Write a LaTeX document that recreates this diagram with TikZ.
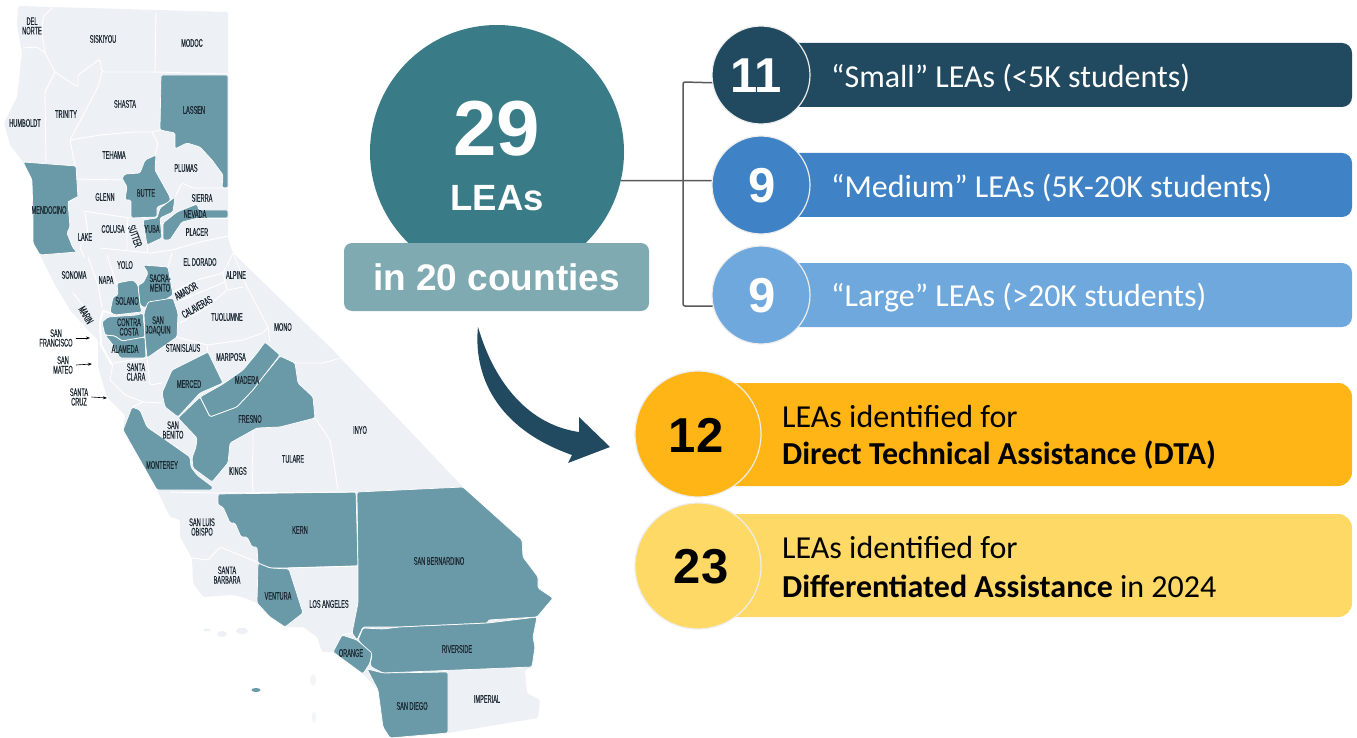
\documentclass[tikz,border=0pt]{standalone}
\usepackage{fontspec}
\setmainfont{Liberation Sans}
\newfontfamily\cali{Carlito}
\newfontfamily\mapfont[FakeStretch=0.51,FakeBold=0.25]{Liberation Sans}
\definecolor{base}{HTML}{EDF0F5}
\definecolor{teal1}{HTML}{6A9AA8}
\definecolor{mainc}{HTML}{397C88}
\definecolor{boxc}{HTML}{80AAB2}
\definecolor{navy}{HTML}{214A60}
\definecolor{midb}{HTML}{3F83C6}
\definecolor{lightb}{HTML}{6FA8DC}
\definecolor{amber}{HTML}{FFB515}
\definecolor{butter}{HTML}{FFD966}
\definecolor{labelc}{HTML}{1B2730}
\definecolor{ringc}{HTML}{EDEDED}
\tikzset{
 county/.style={fill=teal1,draw=white,line width=0.7pt,line join=round,rounded corners=1.5pt},
 cline/.style={draw=white,line width=0.9pt,line join=round,rounded corners=1.5pt},
 lbl/.style={font=\mapfont\fontsize{11}{9.5}\selectfont,align=center,inner sep=0pt,text=labelc},
 pin/.style={-{Stealth[length=4pt,width=3pt]},line width=0.6pt,black},
 numcirc/.style={circle,draw=ringc,line width=1.2pt,inner sep=0pt,minimum size=98pt},
 bigcirc/.style={circle,draw=ringc,line width=1.2pt,inner sep=0pt,minimum size=126pt},
 bartext/.style={anchor=west,inner sep=0pt,text=white,font=\cali\fontsize{32}{34}\selectfont},
 assist/.style={anchor=west,inner sep=0pt,text=black,font=\cali\fontsize{32}{34}\selectfont},
 numw/.style={inner sep=0pt,text=white,font=\bfseries\fontsize{49}{49}\selectfont},
 numb/.style={inner sep=0pt,text=black,font=\bfseries\fontsize{49}{49}\selectfont},
 bracket/.style={draw=black!65,line width=1.5pt,rounded corners=2pt},
}
\usetikzlibrary{arrows.meta}
\begin{document}
\begin{tikzpicture}[x=1pt,y=-1pt]
\useasboundingbox (0,0) rectangle (1357,738);
% state outline
\fill[base,line join=round,rounded corners=1.5pt] (18,6) -- (228,12) -- (228,238) -- (233,253) -- (330,347) -- (463,487) -- (522,540) -- (523,557) -- (538,577) -- (538,588) -- (553,598) -- (537,617) -- (533,637) -- (535,647) -- (532,667) -- (525,670) -- (527,693) -- (540,700) -- (538,718) -- (448,733) -- (390,738) -- (383,727) -- (378,690) -- (363,674) -- (333,652) -- (322,652) -- (317,637) -- (303,627) -- (287,627) -- (270,617) -- (257,603) -- (245,598) -- (233,595) -- (203,597) -- (193,583) -- (192,558) -- (180,537) -- (180,520) -- (170,517) -- (157,490) -- (140,460) -- (123,430) -- (125,415) -- (107,397) -- (98,367) -- (98,340) -- (88,330) -- (70,310) -- (55,285) -- (40,255) -- (33,243) -- (33,217) -- (32,180) -- (23,162) -- (10,145) -- (4,123) -- (17,97) -- (22,53) -- (17,25) -- cycle;
% bay
\draw[white,line width=2pt,line join=round] (113,314) -- (103,311) -- (100,322) -- (101,345) -- (112,365);
% islands
\fill[base] (222,634) ellipse (5 and 3) (242,631) ellipse (6 and 3) (207,630) ellipse (4 and 1.5);
\fill[base!70!white] (313,680) ellipse (3 and 6) (314,717) ellipse (2 and 6);
\fill[teal1] (256,690) ellipse (4.5 and 2);
% teal counties
\path[county] (161,75) -- (228,75) -- (228,188) -- (222,188) -- (223,175) -- (212,160) -- (200,147) -- (187,143) -- (175,149) -- (175,133) -- (160,130) -- cycle;
\path[county] (23,162) -- (76,166) -- (78,198) -- (68,202) -- (70,227) -- (67,233) -- (73,248) -- (77,252) -- (40,255) -- (33,243) -- (33,217) -- (32,180) -- cycle;
\path[county] (156,155) -- (155,170) -- (170,197) -- (170,202) -- (157,207) -- (157,217) -- (131,218) -- (131,200) -- (125,200) -- (127,187) -- (122,178) -- (125,174) -- (140,173) -- (145,160) -- cycle;
\path[county] (175,197) -- (173,212) -- (160,218) -- (162,238) -- (147,245) -- (143,220) -- (157,218) -- (160,208) -- cycle;
\path[county] (228,210) -- (228,218) -- (198,218) -- (182,222) -- (170,240) -- (163,240) -- (163,223) -- (177,212) -- (197,204) -- (199,210) -- cycle;
\path[county] (143,265) -- (168,267) -- (173,295) -- (165,300) -- (150,302) -- (145,308) -- (140,305) -- (138,285) -- (143,283) -- (148,273) -- cycle;
\path[county] (117,283) -- (133,280) -- (138,285) -- (140,305) -- (142,312) -- (132,313) -- (115,315) -- (110,312) -- (113,297) -- (118,295) -- cycle;
\path[county] (102,322) -- (108,317) -- (137,315) -- (143,313) -- (145,337) -- (122,341) -- (115,336) -- (105,335) -- cycle;
\path[county] (105,335) -- (115,336) -- (122,341) -- (145,337) -- (146,358) -- (120,358) -- (113,345) -- cycle;
\path[county] (148,302) -- (173,298) -- (178,313) -- (177,337) -- (147,358) -- (145,337) -- (144,313) -- cycle;
\path[county] (208,352) -- (223,383) -- (200,393) -- (178,417) -- (165,407) -- (162,393) -- (172,370) -- cycle;
\path[county] (265,342) -- (280,355) -- (263,377) -- (253,390) -- (237,407) -- (210,417) -- (200,397) -- (223,384) -- (243,370) -- (257,353) -- cycle;
\path[county] (280,356) -- (295,363) -- (298,383) -- (313,397) -- (315,418) -- (280,427) -- (257,428) -- (230,443) -- (228,463) -- (212,482) -- (193,468) -- (192,458) -- (196,447) -- (197,438) -- (178,418) -- (200,397) -- (210,417) -- (237,407) -- (253,390) -- (263,377) -- cycle;
\path[county] (132,407) -- (140,410) -- (147,427) -- (163,438) -- (190,457) -- (191,467) -- (197,475) -- (213,487) -- (212,490) -- (157,490) -- (140,460) -- (123,430) -- cycle;
\path[county] (218,494) -- (356,492) -- (358,566) -- (288,568) -- (270,568) -- (258,563) -- (257,547) -- (252,547) -- (247,537) -- (241,537) -- (235,523) -- (230,523) -- (223,507) -- (218,505) -- cycle;
\path[county] (357,492) -- (463,487) -- (522,540) -- (523,557) -- (538,577) -- (538,588) -- (553,598) -- (537,617) -- (488,620) -- (488,623) -- (400,627) -- (363,627) -- (357,640) -- (352,633) -- (358,603) -- (358,566) -- cycle;
\path[county] (363,628) -- (383,629) -- (400,627) -- (488,623) -- (537,617) -- (533,637) -- (535,647) -- (532,667) -- (383,673) -- (373,668) -- (370,665) -- (372,655) -- (358,640) -- cycle;
\path[county] (342,635) -- (357,640) -- (372,653) -- (370,663) -- (363,674) -- (333,652) -- cycle;
\path[county] (367,669) -- (383,673) -- (448,672) -- (448,733) -- (390,738) -- (383,727) -- (378,690) -- cycle;
\path[county] (258,563) -- (270,568) -- (289,569) -- (303,613) -- (285,627) -- (270,617) -- (257,603) -- cycle;
% county lines in pale counties
\draw[cline] (52,8) -- (43,17) -- (42,33) -- (45,53) -- (55,72) -- (45,92) -- (46,163);
\draw[cline] (23,48) -- (37,47) -- (45,53);
\draw[cline] (55,72) -- (67,80) -- (78,87) -- (78,75) -- (100,59) -- (102,72) -- (155,72) -- (227,74);
\draw[cline] (156,12) -- (155,72);
\draw[cline] (102,72) -- (98,87) -- (70,140) -- (75,165);
\draw[cline] (70,140) -- (100,135) -- (133,132) -- (152,132) -- (160,130);
\draw[cline] (152,132) -- (158,143) -- (155,155);
\draw[cline] (175,197) -- (182,183) -- (193,188) -- (228,188);
\draw[cline] (76,179) -- (122,180);
\draw[cline] (83,211) -- (130,218);
\draw[cline] (77,197) -- (68,202);
\draw[cline] (85,213) -- (88,233) -- (80,248) -- (85,258);
\draw[cline] (100,248) -- (150,253) -- (172,250) -- (200,242) -- (233,235);
\draw[cline] (128,218) -- (127,233) -- (127,250);
\draw[cline] (147,245) -- (147,252);
\draw[cline] (168,267) -- (172,253);
\draw[cline] (198,218) -- (228,218);
\draw[cline] (173,292) -- (197,280) -- (223,273) -- (233,253);
\draw[cline] (223,273) -- (227,290) -- (243,287);
\draw[cline] (233,253) -- (247,287) -- (268,327) -- (270,342);
\draw[cline] (177,302) -- (225,282);
\draw[cline] (180,323) -- (207,307) -- (227,290);
\draw[cline] (177,337) -- (207,345) -- (243,340) -- (263,333) -- (268,327);
\draw[cline] (207,345) -- (208,352);
\draw[cline] (147,358) -- (150,385) -- (162,383);
\draw[cline] (147,358) -- (113,363) -- (110,380);
\draw[cline] (110,380) -- (125,395) -- (143,402) -- (162,403);
\draw[cline] (143,402) -- (132,407);
\draw[cline] (295,363) -- (323,363) -- (341,358);
\draw[cline] (315,418) -- (330,440) -- (335,470) -- (338,490);
\draw[cline] (253,430) -- (253,450) -- (252,470) -- (253,493);
\draw[cline] (213,493) -- (356,492);
\draw[cline] (170,492) -- (213,493);
\draw[cline] (192,558) -- (208,560) -- (220,547) -- (257,562);
\draw[cline] (88,257) -- (98,285) -- (102,308);
\draw[cline] (107,255) -- (117,285);
\draw[cline] (73,293) -- (93,318);
\draw[cline] (288,568) -- (358,566);
\draw[cline] (352,633) -- (342,635);
% map labels
\node[lbl] (lDelNorte) at (32,26) {DEL\\NORTE};
\node[lbl] (lSiskiyou) at (103,39) {SISKIYOU};
\node[lbl] (lModoc) at (192,43) {MODOC};
\node[lbl] (lShasta) at (125,104) {SHASTA};
\node[lbl] (lLassen) at (194,110) {LASSEN};
\node[lbl] (lTrinity) at (66,114) {TRINITY};
\node[lbl] (lHumboldt) at (25,123) {HUMBOLDT};
\node[lbl] (lTehama) at (114,155) {TEHAMA};
\node[lbl] (lPlumas) at (186,168) {PLUMAS};
\node[lbl] (lGlenn) at (105,197) {GLENN};
\node[lbl] (lButte) at (146,193) {BUTTE};
\node[lbl] (lSierra) at (202,198) {SIERRA};
\node[lbl] (lMendocino) at (49,210) {MENDOCINO};
\node[lbl] (lNevada) at (195,214) {NEVADA};
\node[lbl] (lColusa) at (113,229) {COLUSA};
\node[lbl] (lYuba) at (152,229) {YUBA};
\node[lbl] (lPlacer) at (197,232) {PLACER};
\node[lbl] (lLake) at (85,237) {LAKE};
\node[lbl,rotate=-70] (lSutter) at (135,236) {SUTTER};
\node[lbl] (lYolo) at (125,265) {YOLO};
\node[lbl] (lEldorado) at (200,262) {EL DORADO};
\node[lbl] (lSonoma) at (74,275) {SONOMA};
\node[lbl] (lNapa) at (106,280) {NAPA};
\node[lbl] (lAlpine) at (236,275) {ALPINE};
\node[lbl] (lSacra) at (160,283) {SACRA-\\MENTO};
\node[lbl,rotate=30] (lAmador) at (186,291) {AMADOR};
\node[lbl] (lSolano) at (127,301) {SOLANO};
\node[lbl,rotate=30] (lCalaveras) at (197,307) {CALAVERAS};
\node[lbl,rotate=-60] (lMarin) at (86,315) {MARIN};
\node[lbl] (lTuolumne) at (227,317) {TUOLUMNE};
\node[lbl] (lContra) at (129,327) {CONTRA\\COSTA};
\node[lbl] (lJoaquin) at (158,326) {SAN\\JOAQUIN};
\node[lbl] (lMono) at (283,327) {MONO};
\node[lbl] (lAlameda) at (125,349) {ALAMEDA};
\node[lbl] (lStanislaus) at (183,348) {STANISLAUS};
\node[lbl] (lMariposa) at (231,357) {MARIPOSA};
\node[lbl] (lFrancisco) at (56,338) {SAN\\FRANCISCO};
\node[lbl] (lMateo) at (63,365) {SAN\\MATEO};
\node[lbl] (lClara) at (136,372) {SANTA\\CLARA};
\node[lbl] (lMerced) at (189,384) {MERCED};
\node[lbl] (lMadera) at (247,380) {MADERA};
\node[lbl] (lCruz) at (79,397) {SANTA\\CRUZ};
\node[lbl] (lFresno) at (250,419) {FRESNO};
\node[lbl] (lBenito) at (173,430) {SAN\\BENITO};
\node[lbl] (lInyo) at (360,430) {INYO};
\node[lbl] (lTulare) at (293,459) {TULARE};
\node[lbl] (lKings) at (238,471) {KINGS};
\node[lbl] (lMonterey) at (162,465) {MONTEREY};
\node[lbl] (lObispo) at (202,527) {SAN LUIS\\OBISPO};
\node[lbl] (lKern) at (300,530) {KERN};
\node[lbl] (lBernardino) at (439,561) {SAN BERNARDINO};
\node[lbl] (lBarbara) at (227,575) {SANTA\\BARBARA};
\node[lbl] (lVentura) at (278,596) {VENTURA};
\node[lbl] (lAngeles) at (329,604) {LOS ANGELES};
\node[lbl] (lOrange) at (351,653) {ORANGE};
\node[lbl] (lRiverside) at (457,649) {RIVERSIDE};
\node[lbl] (lImperial) at (487,699) {IMPERIAL};
\node[lbl] (lDiego) at (412,706) {SAN DIEGO};
\coordinate (pSF) at (90,338);
\coordinate (pSM) at (92,364);
\coordinate (pSC) at (107,398);
\draw[pin] (lFrancisco.east) ++(3,0) -- (pSF);
\draw[pin] (lMateo.east) ++(3,0) -- (pSM);
\draw[pin] (lCruz.east) ++(3,0) -- (pSC);
% bars
\fill[navy,rounded corners=10pt] (770,43) rectangle (1352,107);
\fill[midb,rounded corners=10pt] (770,153) rectangle (1352,217);
\fill[lightb,rounded corners=10pt] (770,263) rectangle (1352,327);
\fill[amber,rounded corners=14pt] (700,383) rectangle (1352,486);
\fill[butter,rounded corners=14pt] (700,514) rectangle (1352,617);
% main circle
\node[circle,fill=mainc,inner sep=0pt,minimum size=254pt] (main) at (497,152) {};
\node[inner sep=0pt,text=white,font=\bfseries\fontsize{78}{78}\selectfont] (mainnum) at (497,129) {29};
\node[inner sep=0pt,text=white,font=\bfseries\fontsize{36.5}{36.5}\selectfont] (mainlea) at (497,198) {LEAs};
\node[draw=none,fill=boxc,rounded corners=8pt,minimum width=305pt,minimum height=68pt,inner sep=0pt,text=white,font=\bfseries\fontsize{37}{37}\selectfont] (countybox) at (496.5,277) {in 20 counties};
% small circles
\node[numcirc,fill=navy] (csmall) at (761,75) {};
\node[numcirc,fill=midb] (cmed) at (761,185) {};
\node[numcirc,fill=lightb] (clarge) at (761,295) {};
\node[numw] (nsmall) at (756,76) {11};
\node[numw] (nmed) at (762,186) {9};
\node[numw] (nlarge) at (762,296) {9};
\node[bartext] (tsmall) at (831,78) {“Small” LEAs (<5K students)};
\node[bartext] (tmed) at (831,188) {“Medium” LEAs (5K-20K students)};
\node[bartext] (tlarge) at (831,298) {“Large” LEAs (>20K students)};
% connectors
\coordinate (brTop) at (683,82);
\coordinate (brBot) at (683,306);
\draw[bracket] (main.-13.2) -- (cmed.175);
\draw[bracket] (csmall.189) -- (brTop) -- (brBot) -- (clarge.193);
% curved arrow
\fill[navy] (478,327) .. controls (474,365) and (487,425) .. (572,455) -- (568,463) -- (610,447) -- (579,417) -- (579,432) .. controls (530,425) and (495,385) .. (478,327) -- cycle;
% yellow circles
\node[bigcirc,fill=amber] (c12) at (698,434) {};
\node[bigcirc,fill=butter] (c23) at (698,566) {};
\node[numb] (n12) at (696,435) {12};
\node[numb] (n23) at (701,567) {23};
\node[assist] (a1) at (782,417) {LEAs identified for};
\node[assist] (a2) at (782,455) {\bfseries Direct Technical Assistance (DTA)};
\node[assist] (a3) at (782,548) {LEAs identified for};
\node[assist] (a4) at (782,586) {\textbf{Differentiated Assistance} in 2024};
\end{tikzpicture}
\end{document}
